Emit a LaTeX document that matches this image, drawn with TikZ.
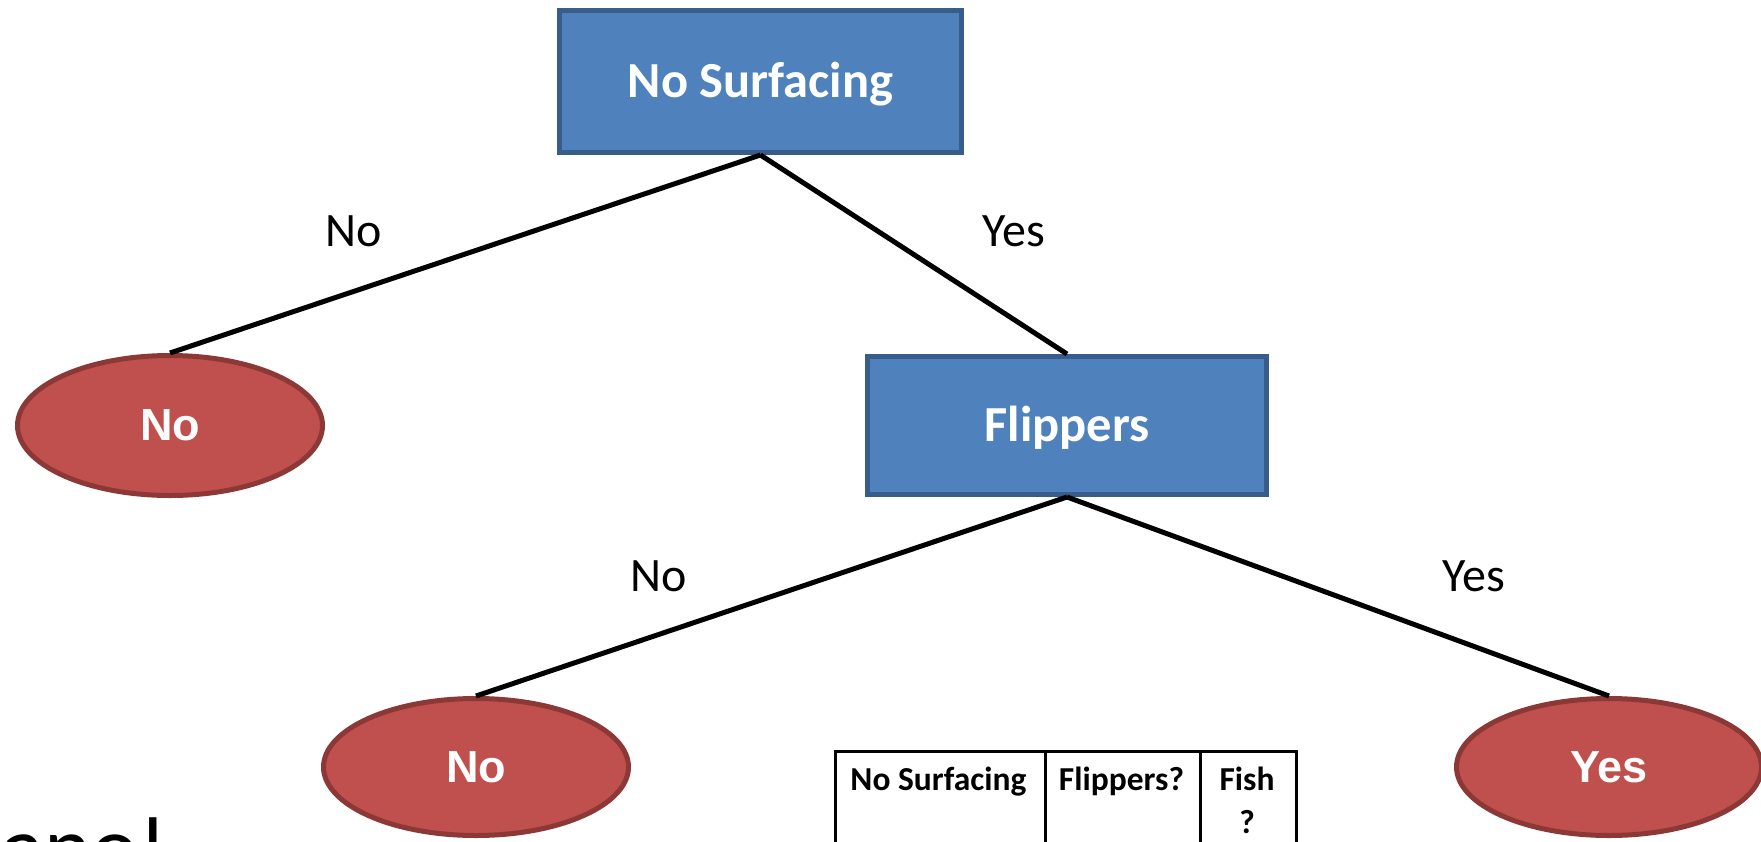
\documentclass[tikz,border=0pt]{standalone}
\usepackage{fontspec}
\setmainfont{Carlito}
\newfontfamily\arialf{Liberation Sans}
\usetikzlibrary{shapes.geometric}
\definecolor{boxfill}{HTML}{4F81BD}
\definecolor{boxline}{HTML}{385D8A}
\definecolor{ellfill}{HTML}{C0504D}
\definecolor{ellline}{HTML}{8C3836}
\tikzset{
  decbox/.style={rectangle, draw=boxline, fill=boxfill, line width=5pt, inner sep=0pt,
    text=white, font=\fontsize{50.5}{60}\selectfont\bfseries, text height=31pt, text depth=0pt},
  leaf/.style={ellipse, draw=ellline, fill=ellfill, line width=5pt, inner sep=0pt,
    minimum width=305pt, text=white, font=\arialf\fontsize{45}{52}\selectfont\bfseries},
  edgelbl/.style={anchor=base, inner sep=0pt, font=\fontsize{48}{56}\selectfont},
  conn/.style={line width=5pt, black},
  cell/.style={rectangle, draw=black, line width=2.5pt, inner sep=0pt, anchor=north west, minimum height=150pt},
  celltxt/.style={anchor=base, inner sep=0pt, align=center, font=\fontsize{33.5}{43}\selectfont\bfseries}
}
\begin{document}
\begin{tikzpicture}[x=1pt,y=-1pt]
\useasboundingbox (0,0) rectangle (1761,841);
\clip (0,0) rectangle (1761,841);
\fill[white] (0,0) rectangle (1761,841);

% decision boxes
\node[decbox, minimum width=402pt, minimum height=142pt] (top) at (760.5,81.5) {No Surfacing};
\node[decbox, minimum width=399pt, minimum height=138pt] (flip) at (1067,425.5) {Flippers};

% leaves
\node[leaf, minimum height=140pt] (leafL) at (170,425.5) {No};
\node[leaf, minimum height=137pt] (leafM) at (476,767) {No};
\node[leaf, minimum height=137pt] (leafR) at (1609,767) {Yes};

% connectors
\draw[conn] (top.south) -- (leafL.north);
\draw[conn] (top.south) -- (flip.north);
\draw[conn] (flip.south) -- (leafM.north);
\draw[conn] (flip.south) -- (leafR.north);

% edge labels
\node[edgelbl] (l1) at (354,246) {No};
\node[edgelbl] (l2) at (1014,246) {Yes};
\node[edgelbl] (l3) at (659,591) {No};
\node[edgelbl] (l4) at (1474,591) {Yes};

% table
\node[cell, minimum width=210pt] (c1) at (834,750) {};
\node[cell, minimum width=155pt] (c2) at (1044,750) {};
\node[cell, minimum width=96pt] (c3) at (1199,750) {};
\node[celltxt] (t1) at (938.5,790) {No Surfacing};
\node[celltxt] (t2) at (1121.5,790) {Flippers?};
\node[celltxt] (t3) at (1247,790) {Fish};
\node[celltxt] (t4) at (1247,833) {?};

% cut-off title text
\node[anchor=base west, inner sep=0pt, font=\fontsize{90}{96}\selectfont] (title) at (1,878) {ano!};
\end{tikzpicture}
\end{document}
